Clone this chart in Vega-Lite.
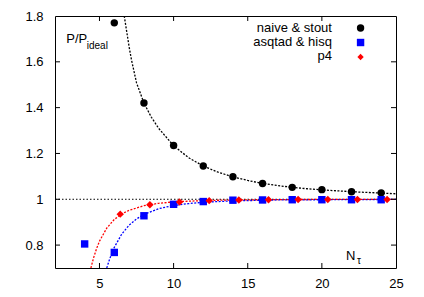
{
  "$schema": "https://vega.github.io/schema/vega-lite/v6.json",
  "width": 341,
  "height": 252,
  "autosize": {"type": "none"},
  "padding": {"left": 55, "top": 16, "right": 28, "bottom": 29},
  "background": "white",
  "config": {
    "view": {"stroke": "black", "strokeWidth": 1},
    "font": "Liberation Sans",
    "axis": {"domain": false, "ticks": false, "labelColor": "black", "labelFont": "Liberation Sans", "labelFontSize": 13, "grid": false, "title": null}
  },
  "datasets": {
    "curves": [
      {"series": "naive & stout", "n": 6.67, "v": 1.8},
      {"series": "naive & stout", "n": 7.0, "v": 1.665},
      {"series": "naive & stout", "n": 7.16, "v": 1.608},
      {"series": "naive & stout", "n": 7.5, "v": 1.508},
      {"series": "naive & stout", "n": 8.0, "v": 1.42},
      {"series": "naive & stout", "n": 8.5, "v": 1.358},
      {"series": "naive & stout", "n": 9.0, "v": 1.309},
      {"series": "naive & stout", "n": 10.0, "v": 1.234},
      {"series": "naive & stout", "n": 11.0, "v": 1.182},
      {"series": "naive & stout", "n": 12.0, "v": 1.145},
      {"series": "naive & stout", "n": 13.0, "v": 1.118},
      {"series": "naive & stout", "n": 14.0, "v": 1.098},
      {"series": "naive & stout", "n": 15.0, "v": 1.082},
      {"series": "naive & stout", "n": 16.0, "v": 1.069},
      {"series": "naive & stout", "n": 17.0, "v": 1.06},
      {"series": "naive & stout", "n": 18.0, "v": 1.052},
      {"series": "naive & stout", "n": 19.0, "v": 1.046},
      {"series": "naive & stout", "n": 20.0, "v": 1.041},
      {"series": "naive & stout", "n": 21.0, "v": 1.037},
      {"series": "naive & stout", "n": 22.0, "v": 1.033},
      {"series": "naive & stout", "n": 23.0, "v": 1.03},
      {"series": "naive & stout", "n": 24.0, "v": 1.027},
      {"series": "naive & stout", "n": 25.0, "v": 1.024},
      {"series": "asqtad & hisq", "n": 5.49, "v": 0.7},
      {"series": "asqtad & hisq", "n": 5.7, "v": 0.742},
      {"series": "asqtad & hisq", "n": 6.0, "v": 0.79},
      {"series": "asqtad & hisq", "n": 6.5, "v": 0.848},
      {"series": "asqtad & hisq", "n": 7.0, "v": 0.887},
      {"series": "asqtad & hisq", "n": 7.5, "v": 0.914},
      {"series": "asqtad & hisq", "n": 8.0, "v": 0.934},
      {"series": "asqtad & hisq", "n": 9.0, "v": 0.959},
      {"series": "asqtad & hisq", "n": 10.0, "v": 0.973},
      {"series": "asqtad & hisq", "n": 11.0, "v": 0.981},
      {"series": "asqtad & hisq", "n": 12.0, "v": 0.987},
      {"series": "asqtad & hisq", "n": 14.0, "v": 0.993},
      {"series": "asqtad & hisq", "n": 17.0, "v": 0.997},
      {"series": "asqtad & hisq", "n": 20.0, "v": 0.998},
      {"series": "asqtad & hisq", "n": 25.0, "v": 0.9993},
      {"series": "p4", "n": 4.42, "v": 0.7},
      {"series": "p4", "n": 4.6, "v": 0.744},
      {"series": "p4", "n": 4.8, "v": 0.784},
      {"series": "p4", "n": 5.0, "v": 0.817},
      {"series": "p4", "n": 5.5, "v": 0.875},
      {"series": "p4", "n": 6.0, "v": 0.912},
      {"series": "p4", "n": 6.5, "v": 0.936},
      {"series": "p4", "n": 7.0, "v": 0.952},
      {"series": "p4", "n": 8.0, "v": 0.972},
      {"series": "p4", "n": 9.0, "v": 0.9825},
      {"series": "p4", "n": 10.0, "v": 0.9885},
      {"series": "p4", "n": 12.0, "v": 0.9945},
      {"series": "p4", "n": 14.0, "v": 0.997},
      {"series": "p4", "n": 17.0, "v": 0.9986},
      {"series": "p4", "n": 20.0, "v": 0.9993},
      {"series": "p4", "n": 25.0, "v": 0.9997}
    ],
    "points": [
      {"series": "naive & stout", "n": 6, "v": 1.77},
      {"series": "naive & stout", "n": 8, "v": 1.42},
      {"series": "naive & stout", "n": 10, "v": 1.235},
      {"series": "naive & stout", "n": 12, "v": 1.145},
      {"series": "naive & stout", "n": 14, "v": 1.098},
      {"series": "naive & stout", "n": 16, "v": 1.069},
      {"series": "naive & stout", "n": 18, "v": 1.052},
      {"series": "naive & stout", "n": 20, "v": 1.042},
      {"series": "naive & stout", "n": 22, "v": 1.033},
      {"series": "naive & stout", "n": 24, "v": 1.028},
      {"series": "asqtad & hisq", "n": 4, "v": 0.805},
      {"series": "asqtad & hisq", "n": 6, "v": 0.768},
      {"series": "asqtad & hisq", "n": 8, "v": 0.928},
      {"series": "asqtad & hisq", "n": 10, "v": 0.978},
      {"series": "asqtad & hisq", "n": 12, "v": 0.99},
      {"series": "asqtad & hisq", "n": 14, "v": 0.996},
      {"series": "asqtad & hisq", "n": 16, "v": 0.997},
      {"series": "asqtad & hisq", "n": 18, "v": 0.998},
      {"series": "asqtad & hisq", "n": 20, "v": 0.998},
      {"series": "asqtad & hisq", "n": 22, "v": 0.998},
      {"series": "asqtad & hisq", "n": 24, "v": 0.998},
      {"series": "p4", "n": 6.4, "v": 0.935},
      {"series": "p4", "n": 8.4, "v": 0.976},
      {"series": "p4", "n": 10.4, "v": 0.988},
      {"series": "p4", "n": 12.4, "v": 0.994},
      {"series": "p4", "n": 14.4, "v": 0.997},
      {"series": "p4", "n": 16.4, "v": 0.998},
      {"series": "p4", "n": 18.4, "v": 0.999},
      {"series": "p4", "n": 20.4, "v": 0.999},
      {"series": "p4", "n": 22.4, "v": 0.999},
      {"series": "p4", "n": 24.4, "v": 0.999}
    ],
    "xticks": [{"t": 5}, {"t": 10}, {"t": 15}, {"t": 20}],
    "yticks": [{"t": 0.8}, {"t": 1.0}, {"t": 1.2}, {"t": 1.4}, {"t": 1.6}],
    "one": [{}]
  },
  "resolve": {"axis": {"x": "independent", "y": "independent"}},
  "layer": [
    {
      "data": {"name": "one"},
      "mark": {"type": "rule", "color": "black", "strokeDash": [1.5, 2], "strokeWidth": 1},
      "encoding": {"y": {"datum": 1, "type": "quantitative", "scale": {"domain": [0.7, 1.8], "nice": false, "zero": false}, "axis": null}}
    },
    {
      "data": {"name": "curves"},
      "mark": {"type": "line", "clip": true, "strokeDash": [2, 1.5], "strokeWidth": 1.3},
      "encoding": {
        "x": {"field": "n", "type": "quantitative", "scale": {"domain": [2, 25], "nice": false, "zero": false},
              "axis": {"orient": "bottom", "values": [5, 10, 15, 20, 25], "labelPadding": 9, "labelFlush": false, "title": null}},
        "y": {"field": "v", "type": "quantitative", "scale": {"domain": [0.7, 1.8], "nice": false, "zero": false},
              "axis": {"orient": "left", "values": [0.8, 1, 1.2, 1.4, 1.6, 1.8], "format": ".1~f", "labelPadding": 12, "labelFlush": false, "title": null}},
        "stroke": {"field": "series", "type": "nominal", "scale": {"domain": ["naive & stout", "asqtad & hisq", "p4"], "range": ["#000000", "#0000ff", "#ff0000"]}, "legend": null},
        "detail": {"field": "series"}
      }
    },
    {
      "data": {"name": "xticks"},
      "mark": {"type": "rule", "color": "black", "strokeWidth": 1},
      "encoding": {"x": {"field": "t", "type": "quantitative", "axis": null}, "y": {"datum": 0.7, "type": "quantitative", "axis": null}, "y2": {"datum": 0.7218}}
    },
    {
      "data": {"name": "xticks"},
      "mark": {"type": "rule", "color": "black", "strokeWidth": 1},
      "encoding": {"x": {"field": "t", "type": "quantitative", "axis": null}, "y": {"datum": 1.8, "type": "quantitative", "axis": null}, "y2": {"datum": 1.7782}}
    },
    {
      "data": {"name": "yticks"},
      "mark": {"type": "rule", "color": "black", "strokeWidth": 1},
      "encoding": {"y": {"field": "t", "type": "quantitative", "axis": null}, "x": {"datum": 2, "type": "quantitative", "axis": null}, "x2": {"datum": 2.337}}
    },
    {
      "data": {"name": "yticks"},
      "mark": {"type": "rule", "color": "black", "strokeWidth": 1},
      "encoding": {"y": {"field": "t", "type": "quantitative", "axis": null}, "x": {"datum": 25, "type": "quantitative", "axis": null}, "x2": {"datum": 24.663}}
    },
    {
      "data": {"name": "points"},
      "mark": {"type": "point", "filled": true, "opacity": 1},
      "encoding": {
        "x": {"field": "n", "type": "quantitative", "axis": null},
        "y": {"field": "v", "type": "quantitative", "axis": null},
        "color": {"field": "series", "type": "nominal", "scale": {"domain": ["naive & stout", "asqtad & hisq", "p4"], "range": ["#000000", "#0000ff", "#ff0000"]}, "legend": null},
        "shape": {"field": "series", "type": "nominal", "scale": {"domain": ["naive & stout", "asqtad & hisq", "p4"], "range": ["circle", "square", "diamond"]}, "legend": null},
        "size": {"field": "series", "type": "nominal", "scale": {"domain": ["naive & stout", "asqtad & hisq", "p4"], "range": [55, 55, 40]}, "legend": null}
      }
    },
    {
      "data": {"name": "one"},
      "mark": {"type": "text", "text": "naive & stout", "fontSize": 13, "align": "right", "baseline": "alphabetic", "color": "black"},
      "encoding": {"x": {"datum": 20.68, "type": "quantitative", "axis": null}, "y": {"datum": 1.730, "type": "quantitative", "axis": null}}
    },
    {
      "data": {"name": "one"},
      "mark": {"type": "text", "text": "asqtad & hisq", "fontSize": 13, "align": "right", "baseline": "alphabetic", "color": "black"},
      "encoding": {"x": {"datum": 20.68, "type": "quantitative", "axis": null}, "y": {"datum": 1.669, "type": "quantitative", "axis": null}}
    },
    {
      "data": {"name": "one"},
      "mark": {"type": "text", "text": "p4", "fontSize": 13, "align": "right", "baseline": "alphabetic", "color": "black"},
      "encoding": {"x": {"datum": 20.68, "type": "quantitative", "axis": null}, "y": {"datum": 1.6058, "type": "quantitative", "axis": null}}
    },
    {
      "data": {"name": "one"},
      "mark": {"type": "point", "shape": "circle", "filled": true, "opacity": 1, "color": "#000000", "size": 55},
      "encoding": {"x": {"datum": 22.61, "type": "quantitative", "axis": null}, "y": {"datum": 1.7476, "type": "quantitative", "axis": null}}
    },
    {
      "data": {"name": "one"},
      "mark": {"type": "point", "shape": "square", "filled": true, "opacity": 1, "color": "#0000ff", "size": 55},
      "encoding": {"x": {"datum": 22.61, "type": "quantitative", "axis": null}, "y": {"datum": 1.6843, "type": "quantitative", "axis": null}}
    },
    {
      "data": {"name": "one"},
      "mark": {"type": "point", "shape": "diamond", "filled": true, "opacity": 1, "color": "#ff0000", "size": 40},
      "encoding": {"x": {"datum": 22.61, "type": "quantitative", "axis": null}, "y": {"datum": 1.621, "type": "quantitative", "axis": null}}
    },
    {
      "data": {"name": "one"},
      "mark": {"type": "text", "text": "P/P", "fontSize": 13, "align": "left", "baseline": "alphabetic", "color": "black"},
      "encoding": {"x": {"datum": 2.76, "type": "quantitative", "axis": null}, "y": {"datum": 1.683, "type": "quantitative", "axis": null}}
    },
    {
      "data": {"name": "one"},
      "mark": {"type": "text", "text": "ideal", "fontSize": 10, "align": "left", "baseline": "alphabetic", "color": "black"},
      "encoding": {"x": {"datum": 4.14, "type": "quantitative", "axis": null}, "y": {"datum": 1.656, "type": "quantitative", "axis": null}}
    },
    {
      "data": {"name": "one"},
      "mark": {"type": "text", "text": "N", "fontSize": 13, "align": "left", "baseline": "alphabetic", "color": "black"},
      "encoding": {"x": {"datum": 21.63, "type": "quantitative", "axis": null}, "y": {"datum": 0.735, "type": "quantitative", "axis": null}}
    },
    {
      "data": {"name": "one"},
      "mark": {"type": "text", "text": "τ", "fontSize": 10, "align": "left", "baseline": "alphabetic", "color": "black"},
      "encoding": {"x": {"datum": 22.37, "type": "quantitative", "axis": null}, "y": {"datum": 0.717, "type": "quantitative", "axis": null}}
    }
  ]
}
